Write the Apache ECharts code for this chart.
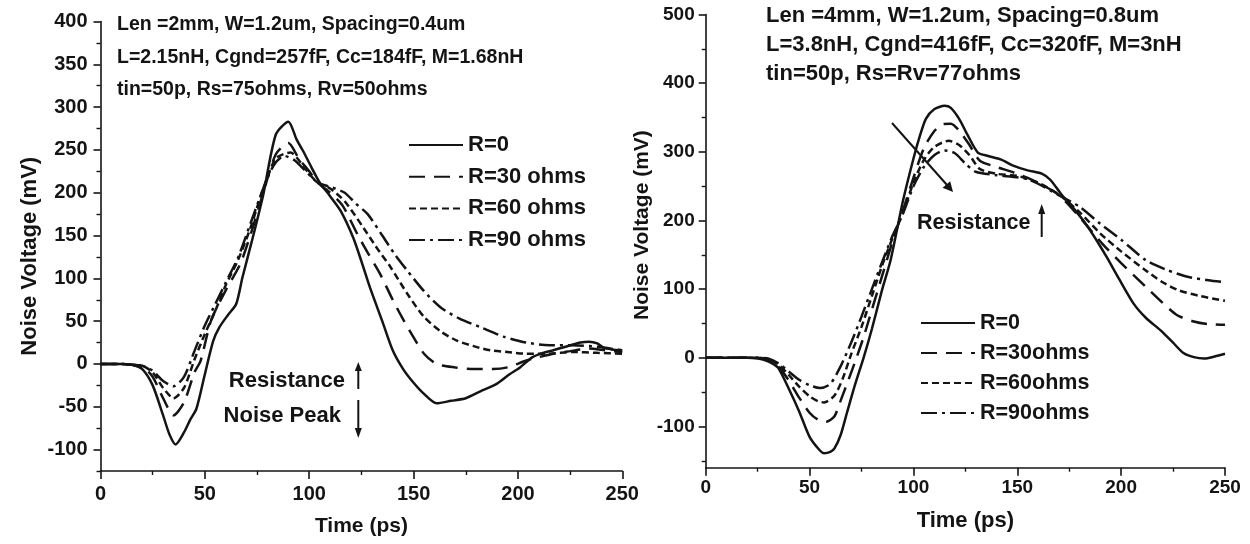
<!DOCTYPE html>
<html><head><meta charset="utf-8">
<script src="https://cdn.jsdelivr.net/npm/echarts@6/dist/echarts.min.js"></script>
<style>html,body{margin:0;padding:0;background:#fff}#c{width:1250px;height:544px}</style>
</head><body><div id="c"></div>
<script>
// ---------- Left panel (Len = 2mm) ----------
const tL0 = [0,10,15,20,25,30,33,36,40,43,46,50,54,57,61,65,68,73,78,84,90,94,97,101,105,110,115,121,125,129,135,140,145,150,155,161,168,175,182,190,196,201,207,212,217,224,230,234,238,241,245,250];
const vL0 = [0,0,-1,-6,-25,-60,-82,-94,-80,-65,-52,-12,27,43,57,70,101,148,198,268,283,262,249,230,212,196,179,148,120,90,50,16,-6,-22,-35,-46,-43,-40,-32,-23,-12,-4,8,13,16,21,25,26,24,19,17,16];
const tL30 = [0,10,15,20,25,30,35,40,45,48,53,60,67,72,78,84,90,95,100,104,110,116,123,128,134,140,145,150,155,161,170,179,188,195,204,210,217,225,234,242,250];
const vL30 = [0,0,-1,-3,-15,-40,-60,-45,-10,4,51,86,117,152,200,245,258,240,225,212,200,185,152,130,105,75,52,31,12,0,-4,-6,-6,-4,4,8,12,15,18,16,14];
const tL60 = [0,10,15,20,25,30,35,40,45,50,55,60,66,72,78,84,91,96,100,104,110,117,126,132,139,147,155,163,171,180,187,195,204,215,226,238,250];
const vL60 = [0,0,-1,-2,-10,-28,-40,-28,5,35,62,92,122,160,205,240,247,235,222,212,205,190,159,137,113,82,55,38,27,20,16,14,12,12,14,13,12];
const tL90 = [0,10,15,20,25,30,35,40,45,50,55,60,66,72,78,83,88,93,98,104,110,117,122,128,135,141,147,155,163,172,182,193,204,215,226,238,250];
const vL90 = [0,0,-1,-2,-8,-20,-26,-15,15,45,70,95,125,165,205,232,243,238,226,212,207,200,188,175,150,128,109,85,66,53,43,32,25,22,22,20,16];

// ---------- Right panel (Len = 4mm) ----------
const tR0 = [0,20,25,28,32,35,40,45,50,55,57,60,62,65,68,72,76,80,85,89,95,100,103,106,110,115,118,122,126,131,136,142,148,155,162,166,171,177,183,188,193,199,206,212,219,225,230,235,240,245,250];
const vR0 = [0,0,-1,-3,-8,-15,-45,-78,-115,-135,-139,-137,-132,-112,-80,-38,0,42,100,142,229,290,322,348,362,367,364,348,325,299,294,289,280,273,268,259,239,218,195,172,147,115,79,58,40,22,7,1,-1,2,6];
const tR30 = [0,25,30,35,40,45,50,54,58,62,65,68,72,76,80,85,90,95,100,105,110,114,118,122,127,132,140,150,160,170,180,191,200,212,220,227,235,242,250];
const vR30 = [0,0,-3,-13,-33,-58,-80,-90,-93,-85,-62,-38,-5,30,70,120,170,215,262,305,330,340,341,331,310,287,278,268,255,237,205,166,138,103,80,62,53,49,48];
const tR60 = [0,25,30,35,40,45,50,54,57,62,66,70,75,80,85,90,95,100,105,110,117,122,127,132,140,150,160,170,180,190,200,212,220,228,238,250];
const vR60 = [0,0,-2,-10,-25,-42,-56,-63,-65,-55,-30,5,45,90,135,175,212,255,288,307,316,310,295,275,268,265,255,238,212,181,155,127,110,98,90,83];
const tR90 = [0,25,30,35,40,45,50,55,60,65,70,75,80,85,90,95,100,105,110,115,120,125,130,140,155,170,180,190,200,212,222,232,242,250];
const vR90 = [0,0,-1,-8,-20,-32,-40,-44,-38,-12,22,60,100,140,178,210,250,278,295,302,298,283,271,266,260,237,220,195,172,142,128,118,113,110];

// ---------- Axis tick values ----------
const leftYMajor = [-100,-50,0,50,100,150,200,250,300,350,400];
const leftYMinor = [-125,-75,-25,25,75,125,175,225,275,325,375];
const rightYMajor = [-100,0,100,200,300,400,500];
const rightYMinor = [-150,-50,50,150,250,350,450];

const namesL = ['R=0','R=30 ohms','R=60 ohms','R=90 ohms'];
const namesR = ['R=0','R=30ohms','R=60ohms','R=90ohms'];
const headerL = ['Len =2mm, W=1.2um, Spacing=0.4um','L=2.15nH, Cgnd=257fF, Cc=184fF, M=1.68nH','tin=50p, Rs=75ohms, Rv=50ohms'];
const headerR = ['Len =4mm, W=1.2um, Spacing=0.8um','L=3.8nH, Cgnd=416fF, Cc=320fF, M=3nH','tin=50p, Rs=Rv=77ohms'];

const FONT = "'Liberation Sans', Arial, sans-serif";
const INK = '#141414';
const dashTypes = ['solid', [16,9], [7,4], [16,5,3,5]];

function pairs(t, v){ return t.map((x,i)=>[x, v[i]]); }

function xAx(gi, nameGap, margin, nameSize, labelSize){
  return {type:'value', gridIndex:gi, min:0, max:250, interval:50,
    name:'Time (ps)', nameLocation:'middle', nameGap:nameGap,
    nameTextStyle:{fontFamily:FONT, fontWeight:'bold', fontSize:nameSize, color:INK},
    axisLine:{show:true, onZero:false, lineStyle:{color:INK, width:1.6}},
    axisTick:{show:true, inside:false, length:8, lineStyle:{color:INK, width:1.6}},
    minorTick:{show:true, splitNumber:2, length:4, lineStyle:{color:INK, width:1.4}},
    axisLabel:{margin:margin, fontFamily:FONT, fontWeight:'bold', fontSize:labelSize, color:INK},
    splitLine:{show:false}, minorSplitLine:{show:false}};
}
function yMain(gi, min, max, majors, nameGap, margin, nameSize, labelSize, namePad){
  return {type:'value', gridIndex:gi, min:min, max:max, position:'left',
    name:'Noise Voltage (mV)', nameLocation:'middle', nameGap:nameGap,
    nameTextStyle:{fontFamily:FONT, fontWeight:'bold', fontSize:nameSize, color:INK, padding:namePad},
    axisLine:{show:true, onZero:false, lineStyle:{color:INK, width:1.6}},
    axisTick:{show:true, inside:false, length:7, customValues:majors, lineStyle:{color:INK, width:1.6}},
    axisLabel:{show:true, customValues:majors, margin:margin, fontFamily:FONT, fontWeight:'bold', fontSize:labelSize, color:INK},
    splitLine:{show:false}};
}
function yMinor(gi, min, max, minors){
  return {type:'value', gridIndex:gi, min:min, max:max, position:'left', offset:0,
    axisLine:{show:false, onZero:false},
    axisTick:{show:true, inside:false, length:4, customValues:minors, lineStyle:{color:INK, width:1.4}},
    axisLabel:{show:false}, splitLine:{show:false}};
}
function ser(name, t, v, k, xi, yi){
  return {type:'line', name:name, xAxisIndex:xi, yAxisIndex:yi, data:pairs(t,v),
    showSymbol:false, symbol:'none', smooth:0.25, animation:false,
    lineStyle:{color:INK, width:2.5, type:dashTypes[k]}, itemStyle:{color:INK}};
}

const graphic = [];
headerL.forEach((s,i)=>graphic.push({type:'text', x:117, y:[25,58,90][i],
  style:{text:s, fontFamily:FONT, fontWeight:'bold', fontSize:19.5, fill:INK, align:'left', verticalAlign:'middle'}}));
headerR.forEach((s,i)=>graphic.push({type:'text', x:766, y:[16,45,74][i],
  style:{text:s, fontFamily:FONT, fontWeight:'bold', fontSize:22, fill:INK, align:'left', verticalAlign:'middle'}}));
// left annotations
graphic.push({type:'text', x:345, y:381, style:{text:'Resistance', fontFamily:FONT, fontWeight:'bold', fontSize:22, fill:INK, align:'right', verticalAlign:'middle'}});
graphic.push({type:'text', x:341, y:416, style:{text:'Noise Peak', fontFamily:FONT, fontWeight:'bold', fontSize:22, fill:INK, align:'right', verticalAlign:'middle'}});
graphic.push({type:'line', shape:{x1:358.3,y1:389,x2:358.3,y2:369}, style:{stroke:INK, lineWidth:2}});
graphic.push({type:'polygon', shape:{points:[[358.3,362],[354.8,371],[361.8,371]]}, style:{fill:INK}});
graphic.push({type:'line', shape:{x1:358.3,y1:400,x2:358.3,y2:430}, style:{stroke:INK, lineWidth:2}});
graphic.push({type:'polygon', shape:{points:[[358.3,438],[354.8,428],[361.8,428]]}, style:{fill:INK}});
// right annotations
graphic.push({type:'line', shape:{x1:892,y1:123,x2:947,y2:185}, style:{stroke:INK, lineWidth:2}});
graphic.push({type:'polygon', shape:{points:[[953,192],[942.6,187.8],[950.2,181.2]]}, style:{fill:INK}});
graphic.push({type:'text', x:917, y:223, style:{text:'Resistance', fontFamily:FONT, fontWeight:'bold', fontSize:21.5, fill:INK, align:'left', verticalAlign:'middle'}});
graphic.push({type:'line', shape:{x1:1041.7,y1:237,x2:1041.7,y2:212}, style:{stroke:INK, lineWidth:2}});
graphic.push({type:'polygon', shape:{points:[[1041.7,204],[1038.2,214],[1045.2,214]]}, style:{fill:INK}});

const legendMarker = {color:'rgba(0,0,0,0)', borderWidth:0, opacity:0};
const option = {
  backgroundColor:'#ffffff',
  animation:false,
  grid:[
    {left:100.5, top:21.5, width:521.8, height:449.5, outerBoundsMode:'none', containLabel:false},
    {left:705.7, top:14.5, width:519.3, height:453.2, outerBoundsMode:'none', containLabel:false}
  ],
  xAxis:[ xAx(0, 45, 13, 21, 20), xAx(1, 42, 11, 22, 19) ],
  yAxis:[
    yMain(0, -125, 400, leftYMajor, 60, 13, 22, 20, [0,20,0,0]),
    yMinor(0, -125, 400, leftYMinor),
    yMain(1, -160, 500, rightYMajor, 46, 11, 21, 19, [0,0,0,32]),
    yMinor(1, -160, 500, rightYMinor)
  ],
  legend:[
    {data:namesL, orient:'vertical', left:408, top:134, padding:0, itemWidth:54, itemHeight:14, itemGap:9.7,
     itemStyle:legendMarker,
     textStyle:{fontFamily:FONT, fontWeight:'bold', fontSize:22, color:INK, lineHeight:22}},
    {data:namesR, orient:'vertical', left:920, top:312, padding:0, itemWidth:54, itemHeight:14, itemGap:8,
     itemStyle:legendMarker,
     textStyle:{fontFamily:FONT, fontWeight:'bold', fontSize:21.5, color:INK, lineHeight:22}}
  ],
  series:[
    ser(namesL[0], tL0, vL0, 0, 0, 0),
    ser(namesL[1], tL30, vL30, 1, 0, 0),
    ser(namesL[2], tL60, vL60, 2, 0, 0),
    ser(namesL[3], tL90, vL90, 3, 0, 0),
    ser(namesR[0], tR0, vR0, 0, 1, 2),
    ser(namesR[1], tR30, vR30, 1, 1, 2),
    ser(namesR[2], tR60, vR60, 2, 1, 2),
    ser(namesR[3], tR90, vR90, 3, 1, 2)
  ],
  graphic: graphic
};
const chart = echarts.init(document.getElementById('c'), null, {renderer:'canvas'});
chart.setOption(option);
</script></body></html>
